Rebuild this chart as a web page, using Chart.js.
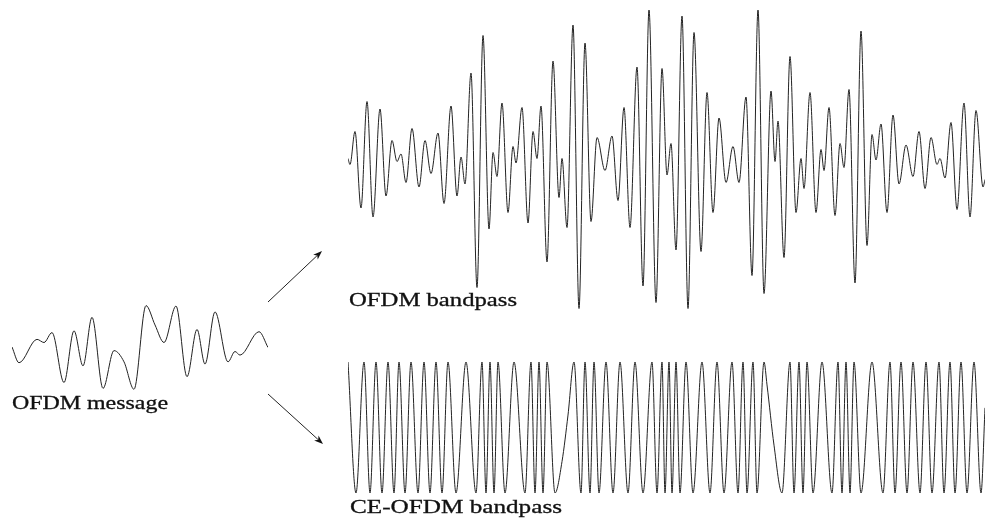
<!DOCTYPE html>
<html>
<head>
<meta charset="utf-8">
<script src="https://cdn.jsdelivr.net/npm/chart.js@4.4.1/dist/chart.umd.min.js"></script>
<style>
  html, body { margin: 0; padding: 0; background: #fff; width: 985px; height: 524px; overflow: hidden; }
  #stage { position: relative; width: 985px; height: 524px; }
  #stage canvas { position: absolute; }
  #overlay { position: absolute; left: 0; top: 0; }
  #overlay text { font-family: "Liberation Serif", "DejaVu Serif", serif; font-size: 19px; fill: #111; stroke: #111; stroke-width: 0.3px; }
</style>
</head>
<body>
<div id="stage">
  <canvas id="messageChart" width="262" height="96" style="left:9px;top:299px;width:262px;height:96px"></canvas>
  <canvas id="bandpassChart" width="643" height="306" style="left:345px;top:7px;width:643px;height:306px"></canvas>
  <canvas id="ceChart" width="643" height="137" style="left:345px;top:359px;width:643px;height:137px"></canvas>
  <svg id="overlay" width="985" height="524" xmlns="http://www.w3.org/2000/svg">
    <text x="12" y="408.5" textLength="156" lengthAdjust="spacingAndGlyphs">OFDM message</text>
    <text x="349" y="306" textLength="168" lengthAdjust="spacingAndGlyphs">OFDM bandpass</text>
    <text x="350" y="512.5" textLength="212" lengthAdjust="spacingAndGlyphs">CE-OFDM bandpass</text>
  </svg>
</div>
<script>
// Baseband OFDM message: [time, amplitude] at its turning points
const messageSamples = [
  [0, 0.00], [7, -0.35], [25, 0.17], [32, 0.10], [40, 0.32], [52, -0.79],
  [62, 0.36], [71, -0.42], [80, 0.66], [91, -0.92], [102, -0.08], [112, -0.33],
  [122, -0.94], [134, 0.92], [143, 0.49], [152, 0.10], [164, 0.91], [175, -0.66],
  [185, 0.39], [193, -0.38], [203, 0.78], [216, -0.33], [223, -0.10], [228, -0.18],
  [247, 0.34], [256, -0.01]
];

// OFDM bandpass signal: [time, amplitude] at each peak / trough
const bandpassSamples = [
  [0, 0.01], [2, -0.03], [7, 0.19], [13, -0.32], [19, 0.39], [25, -0.38],
  [32, 0.34], [38, -0.24], [44, 0.13], [49, -0.01], [53, 0.04], [58, -0.15],
  [64, 0.21], [71, -0.18], [77, 0.13], [83, -0.09], [90, 0.18], [96, -0.29],
  [103, 0.36], [109, -0.24], [113, 0.02], [117, -0.16], [123, 0.58], [129, -0.85],
  [135, 0.83], [141, -0.46], [145, 0.05], [149, -0.11], [154, 0.38], [160, -0.35],
  [165, 0.09], [168, -0.02], [174, 0.35], [180, -0.42], [185, 0.19], [189, 0.01],
  [193, 0.36], [199, -0.68], [205, 0.66], [211, -0.25], [214, 0.01], [219, -0.45],
  [225, 0.90], [231, -0.99], [237, 0.78], [243, -0.41], [249, 0.15], [257, -0.07],
  [264, 0.16], [270, -0.27], [276, 0.35], [282, -0.45], [289, 0.62], [295, -0.84],
  [301, 1.00], [308, -0.95], [314, 0.61], [319, -0.10], [323, 0.11], [328, -0.60],
  [334, 0.96], [340, -0.99], [346, 0.85], [353, -0.61], [359, 0.45], [365, -0.35],
  [371, 0.28], [378, -0.15], [385, 0.09], [391, -0.15], [398, 0.42], [404, -0.77],
  [410, 1.00], [416, -0.89], [423, 0.46], [427, -0.01], [430, 0.26], [436, -0.65],
  [442, 0.69], [448, -0.35], [453, 0.01], [456, -0.19], [462, 0.45], [468, -0.35],
  [473, 0.07], [476, -0.07], [481, 0.35], [487, -0.37], [492, 0.11], [496, -0.05],
  [501, 0.47], [507, -0.82], [513, 0.86], [519, -0.57], [524, 0.17], [528, 0.00],
  [533, 0.24], [539, -0.35], [545, 0.30], [551, -0.16], [558, 0.10], [565, -0.11],
  [571, 0.19], [577, -0.19], [583, 0.15], [589, -0.03], [592, 0.01], [597, -0.12],
  [603, 0.25], [609, -0.33], [616, 0.38], [622, -0.38], [628, 0.33], [635, -0.18],
  [637, -0.13]
];

// Constant-envelope OFDM bandpass: [time, amplitude] at peaks / troughs
const ceSamples = [
  [0, 1], [8, -1], [16, 1], [22, -1], [28, 1], [34, -1], [40, 1], [46, -1],
  [51, 1], [57, -1], [63, 1], [70, -1], [76, 1], [82, -1], [88, 1], [94, -1],
  [100, 1], [108, -1], [118, 1], [128, -1], [134, 1], [138, -1], [142, 1], [146, -1],
  [150, 1], [157, -1], [166, 1], [177, -1], [183, 1], [187, -1], [191, 1], [195, -1],
  [199, 1], [207, -1], [214, -0.52], [220, 0.19], [226, 1], [233, -1], [237, 1], [242, -1],
  [246, 1], [251, -1], [258, 1], [265, -1], [272, 1], [280, -1], [287, 1], [295, -1],
  [304, 1], [309, -1], [314, 1], [317, -1], [321, 1], [324, -1], [328, 1], [332, -1],
  [338, 1], [345, -1], [354, 1], [362, -1], [369, 1], [376, -1], [384, 1], [390, -1],
  [395, 1], [399, -1], [405, 1], [409, -1], [416, 1], [419, 0.65], [426, -0.27], [434, -1],
  [442, 1], [446, -1], [451, 1], [455, -1], [459, 1], [465, -1], [474, 1], [484, -1],
  [490, 1], [494, -1], [498, 1], [502, -1], [506, 1], [513, -1], [524, 1], [535, -1],
  [542, 1], [547, -1], [553, 1], [559, -1], [565, 1], [572, -1], [578, 1], [584, -1],
  [591, 1], [596, -1], [602, 1], [607, -1], [613, 1], [619, -1], [626, 1], [633, -1],
  [637, 0.3]
];

const toPoints = samples => samples.map(([t, a]) => ({ x: t, y: a }));

function waveChart(id, samples) {
  const last = samples[samples.length - 1][0];
  return new Chart(document.getElementById(id), {
    type: 'line',
    data: {
      datasets: [{
        data: toPoints(samples),
        borderColor: '#222',
        borderWidth: 1,
        pointRadius: 0,
        fill: false,
        cubicInterpolationMode: 'monotone'
      }]
    },
    options: {
      responsive: false,
      animation: false,
      events: [],
      layout: { padding: 3 },
      plugins: { legend: { display: false }, tooltip: { enabled: false } },
      scales: {
        x: { type: 'linear', display: false, min: 0, max: last },
        y: { type: 'linear', display: false, min: -1, max: 1 }
      }
    }
  });
}

waveChart('messageChart', messageSamples);
waveChart('bandpassChart', bandpassSamples);
waveChart('ceChart', ceSamples);

// Arrows from the message to the two bandpass signals
function arrow(x1, y1, x2, y2) {
  const svg = document.getElementById('overlay');
  const ns = 'http://www.w3.org/2000/svg';
  const dx = x2 - x1, dy = y2 - y1, len = Math.hypot(dx, dy);
  const ux = dx / len, uy = dy / len, nx = -uy, ny = ux;
  const headLen = 9, headHalf = 3.3;
  const bx = x2 - ux * headLen, by = y2 - uy * headLen;
  const line = document.createElementNS(ns, 'line');
  line.setAttribute('x1', x1); line.setAttribute('y1', y1);
  line.setAttribute('x2', bx + ux * 2); line.setAttribute('y2', by + uy * 2);
  line.setAttribute('stroke', '#222'); line.setAttribute('stroke-width', '1');
  svg.appendChild(line);
  const head = document.createElementNS(ns, 'polygon');
  head.setAttribute('points', [
    [x2, y2],
    [bx + nx * headHalf, by + ny * headHalf],
    [bx + ux * 2.5, by + uy * 2.5],
    [bx - nx * headHalf, by - ny * headHalf]
  ].map(p => p.join(',')).join(' '));
  head.setAttribute('fill', '#111');
  svg.appendChild(head);
}
arrow(268, 302, 322, 251);
arrow(268, 394, 323, 444);
</script>
</body>
</html>
